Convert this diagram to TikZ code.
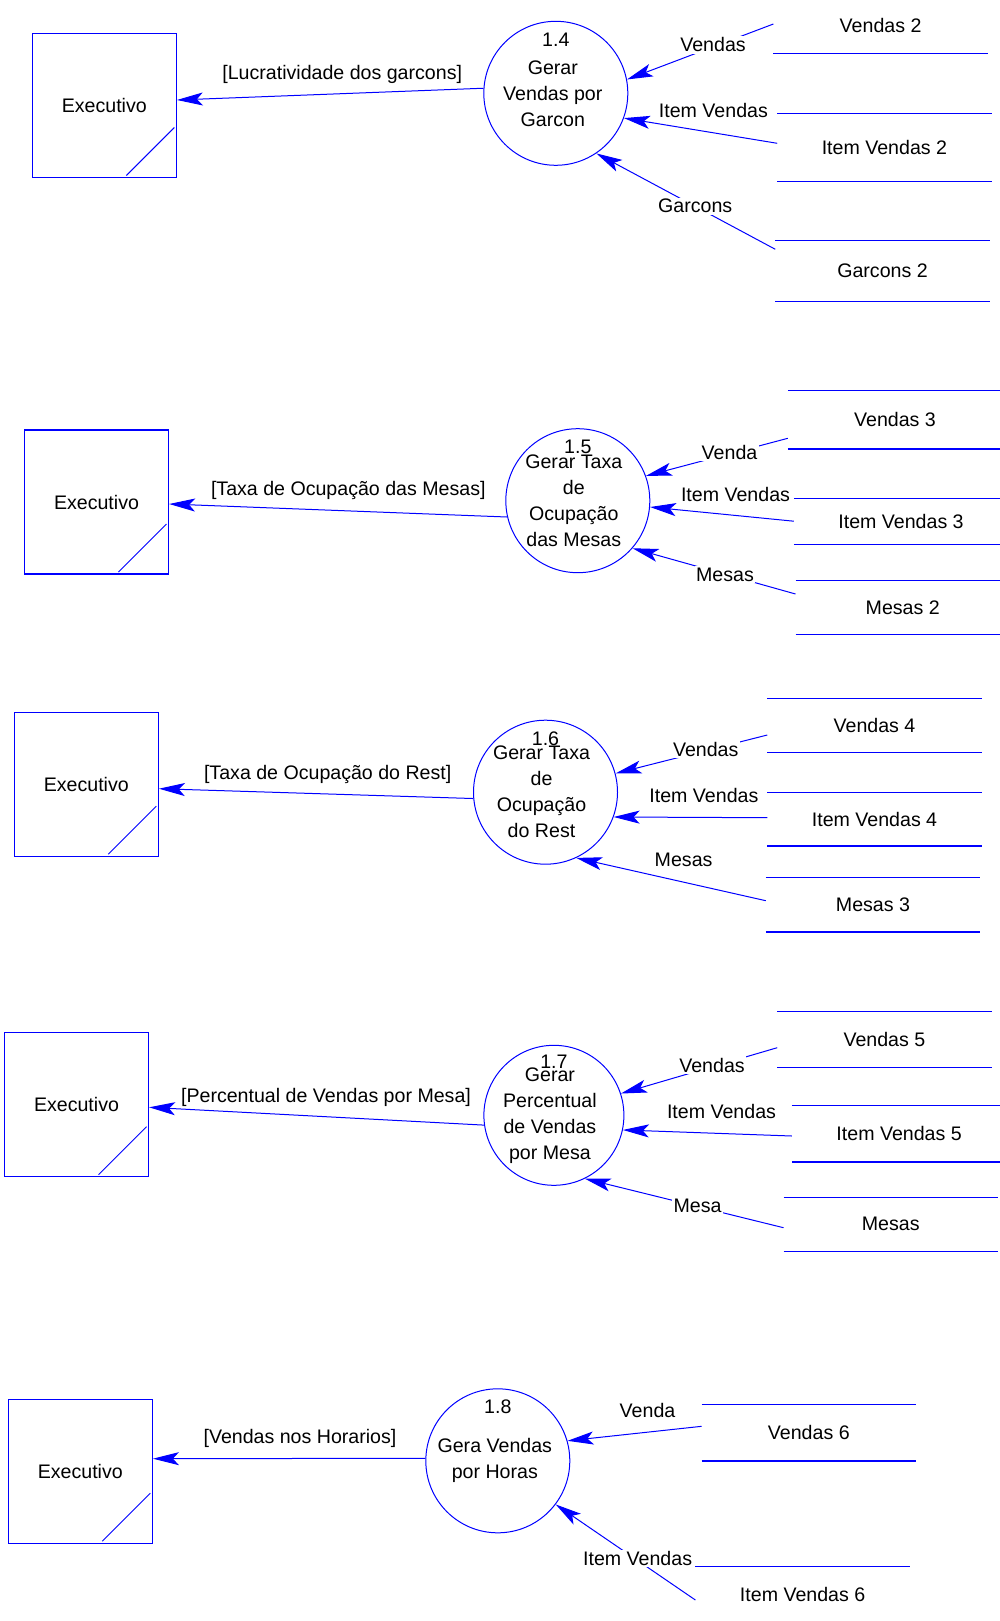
\documentclass[tikz,border=0pt]{standalone}
\usepackage{fontspec}
\setmainfont{Liberation Sans}
\usetikzlibrary{arrows.meta}
\definecolor{dfdblue}{RGB}{0,0,255}

\begin{document}
\begin{tikzpicture}[x=1pt,y=-1pt,
  every node/.style={font=\fontsize{19.6}{26}\selectfont, text=black},
  entity/.style={draw=dfdblue, line width=1.2pt, minimum width=144pt, minimum height=144pt, inner sep=0pt,
    path picture={\draw[dfdblue,line width=1pt]
      ([shift={(-50pt,2pt)}]path picture bounding box.south east) --
      ([shift={(-2pt,50pt)}]path picture bounding box.south east);}},
  proc/.style={circle, draw=dfdblue, line width=1pt, minimum size=144pt, inner sep=0pt},
  proctext/.style={align=center, inner sep=0pt},
  procnum/.style={anchor=base, inner sep=0pt},
  store/.style={minimum width=214pt, inner sep=0pt},
  storeline/.style={draw=dfdblue, line width=1.2pt},
  flow/.style={draw=dfdblue, line width=1pt, -{Stealth[length=26pt,width=13pt,inset=6pt]}},
  flowlabel/.style={anchor=base, fill=white, inner sep=1.5pt},
]
\useasboundingbox (0,0) rectangle (999,1621);

% ---------- 1.4 Gerar Vendas por Garcon ----------
\node[entity] (ex1) at (104.3,105.5) {Executivo};
\node[proc] (p14) at (555.8,93.3) {};
\node[proctext] (t14) at ([xshift=-3pt]p14.center) {Gerar\\Vendas por\\Garcon};
\node[procnum] (n14) at ([yshift=47pt]p14.center) {1.4};
\node[store, minimum height=55.2pt] (s1a) at (880.6,25.7) {Vendas 2};
\node[store, minimum height=67.7pt] (s1b) at (884.4,147.2) {Item Vendas 2};
\node[store, minimum height=60.3pt] (s1c) at (882.5,270.9) {Garcons 2};
\draw[storeline] (s1a.south west) -- (s1a.south east);
\draw[storeline] (s1b.north west) -- (s1b.north east) (s1b.south west) -- (s1b.south east);
\draw[storeline] (s1c.north west) -- (s1c.north east) (s1c.south west) -- (s1c.south east);
\draw[flow] ([yshift=1.7pt]s1a.west) -- (p14.11.9);
\draw[flow] ([yshift=3.9pt]s1b.west) -- (p14.-20.8);
\draw[flow] ([yshift=21.6pt]s1c.west) -- (p14.-56.6);
\draw[flow] (p14.176.6) -- ([yshift=5.5pt]ex1.east);
\node[flowlabel] (l14) at (342.2,80) {[Lucratividade dos garcons]};
\node[flowlabel] (l14a) at (713,52) {Vendas};
\node[flowlabel] (l14b) at (713.4,118) {Item Vendas};
\node[flowlabel] (l14c) at (695.2,213) {Garcons};

% ---------- 1.5 Gerar Taxa de Ocupacao das Mesas ----------
\node[entity] (ex2) at (96.5,502) {Executivo};
\node[proc] (p15) at (577.8,500.7) {};
\node[proctext] (t15) at ([xshift=-4pt]p15.center) {Gerar Taxa\\de\\Ocupação\\das Mesas};
\node[procnum] (n15) at ([yshift=47pt]p15.center) {1.5};
\node[store, minimum height=58pt] (s2a) at (895,419.7) {Vendas 3};
\node[store, minimum height=45.7pt] (s2b) at (901,521.2) {Item Vendas 3};
\node[store, minimum height=54pt] (s2c) at (902.7,607.3) {Mesas 2};
\foreach \s in {s2a,s2b,s2c}
  \draw[storeline] (\s.north west) -- (\s.north east) (\s.south west) -- (\s.south east);
\draw[flow] ([yshift=-18.6pt]s2a.west) -- (p15.20.2);
\draw[flow] (s2b.west) -- (p15.-5.6);
\draw[flow] ([yshift=13.3pt]s2c.west) -- (p15.-41.8);
\draw[flow] (p15.193.4) -- ([yshift=-2pt]ex2.east);
\node[flowlabel] (l15) at (348.3,495.3) {[Taxa de Ocupação das Mesas]};
\node[flowlabel] (l15a) at (729.5,459.3) {Venda};
\node[flowlabel] (l15b) at (735.5,501.3) {Item Vendas};
\node[flowlabel] (l15c) at (725,581) {Mesas};

% ---------- 1.6 Gerar Taxa de Ocupacao do Rest ----------
\node[entity] (ex3) at (86.3,784.2) {Executivo};
\node[proc] (p16) at (545.5,792.2) {};
\node[proctext] (t16) at ([xshift=-4pt]p16.center) {Gerar Taxa\\de\\Ocupação\\do Rest};
\node[procnum] (n16) at ([yshift=47pt]p16.center) {1.6};
\node[store, minimum height=53.7pt] (s3a) at (874.5,725.2) {Vendas 4};
\node[store, minimum height=53.4pt] (s3b) at (874.5,819) {Item Vendas 4};
\node[store, minimum height=54pt] (s3c) at (873,904.7) {Mesas 3};
\foreach \s in {s3a,s3b,s3c}
  \draw[storeline] (\s.north west) -- (\s.north east) (\s.south west) -- (\s.south east);
\draw[flow] ([yshift=-9.8pt]s3a.west) -- (p16.15.9);
\draw[flow] ([yshift=1.3pt]s3b.west) -- (p16.-20.7);
\draw[flow] ([yshift=4pt]s3c.west) -- (p16.-65.7);
\draw[flow] (p16.185.4) -- ([yshift=-4.5pt]ex3.east);
\node[flowlabel] (l16) at (327.7,779.7) {[Taxa de Ocupação do Rest]};
\node[flowlabel] (l16a) at (705.7,756.3) {Vendas};
\node[flowlabel] (l16b) at (703.9,802) {Item Vendas};
\node[flowlabel] (l16c) at (683.6,866.3) {Mesas};

% ---------- 1.7 Gerar Percentual de Vendas por Mesa ----------
\node[entity] (ex4) at (76.5,1104.7) {Executivo};
\node[proc, minimum size=140pt] (p17) at (553.9,1115.3) {};
\node[proctext] (t17) at ([xshift=-4pt]p17.center) {Gerar\\Percentual\\de Vendas\\por Mesa};
\node[procnum] (n17) at ([yshift=47pt]p17.center) {1.7};
\node[store, minimum height=55.6pt] (s4a) at (884.4,1039.5) {Vendas 5};
\node[store, minimum height=56pt] (s4b) at (899.1,1133.7) {Item Vendas 5};
\node[store, minimum height=53.7pt] (s4c) at (890.7,1224.2) {Mesas};
\foreach \s in {s4a,s4b,s4c}
  \draw[storeline] (\s.north west) -- (\s.north east) (\s.south west) -- (\s.south east);
\draw[flow] ([yshift=-8.2pt]s4a.west) -- (p17.18.3);
\draw[flow] ([yshift=-2.3pt]s4b.west) -- (p17.-12);
\draw[flow] ([yshift=-3.5pt]s4c.west) -- (p17.-64.1);
\draw[flow] (p17.188.1) -- ([yshift=-2.6pt]ex4.east);
\node[flowlabel] (l17) at (326,1102.7) {[Percentual de Vendas por Mesa]};
\node[flowlabel] (l17a) at (712,1072) {Vendas};
\node[flowlabel] (l17b) at (721.5,1118) {Item Vendas};
\node[flowlabel] (l17c) at (697.6,1212) {Mesa};

% ---------- 1.8 Gera Vendas por Horas ----------
\node[entity] (ex5) at (80.3,1471.2) {Executivo};
\node[proc] (p18) at (497.8,1460.8) {};
\node[proctext] (t18) at ([xshift=-3pt]p18.center) {Gera Vendas\\por Horas};
\node[procnum] (n18) at ([yshift=47pt]p18.center) {1.8};
\node[store, minimum height=56.4pt] (s5a) at (808.8,1432.5) {Vendas 6};
\node[store, minimum height=55.2pt] (s5b) at (802.6,1594.3) {Item Vendas 6};
\draw[storeline] (s5a.north west) -- (s5a.north east) (s5a.south west) -- (s5a.south east);
\draw[storeline] (s5b.north west) -- (s5b.north east);
\draw[flow] ([yshift=6.2pt]s5a.west) -- (p18.16.5);
\draw[flow] ([yshift=-5.7pt]s5b.west) -- (p18.-37.2);
\draw[flow] (p18.178.3) -- ([yshift=12.5pt]ex5.east);
\node[flowlabel] (l18) at (300,1443) {[Vendas nos Horarios]};
\node[flowlabel] (l18a) at (647.5,1417.7) {Venda};
\node[flowlabel] (l18b) at (637.6,1565.3) {Item Vendas};
\end{tikzpicture}
\end{document}
